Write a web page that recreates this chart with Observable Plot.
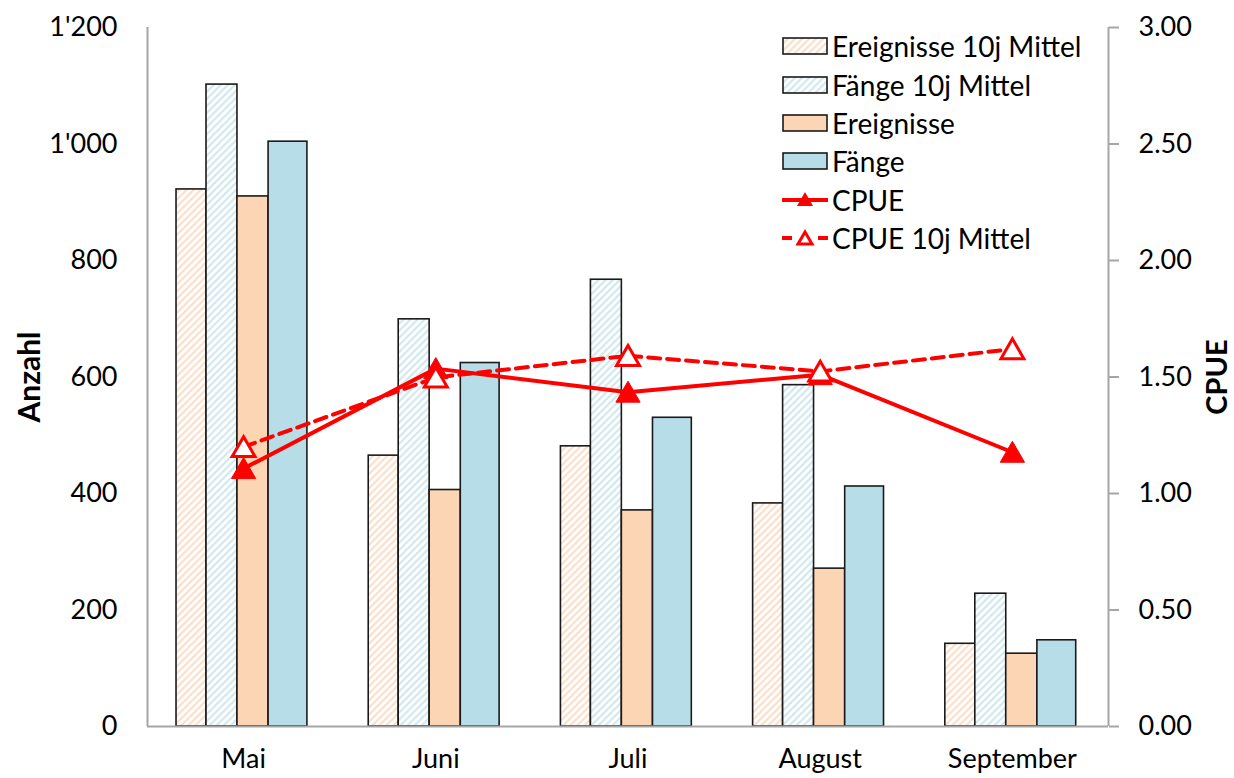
<!DOCTYPE html>
<html><head><meta charset="utf-8">
<script src="https://cdn.jsdelivr.net/npm/d3@7"></script>
<script src="https://cdn.jsdelivr.net/npm/@observablehq/plot@0.6"></script>
<style>
body{margin:0;background:#fff;font-family:Lato,"Noto Sans",sans-serif;}
#wrap{position:relative;width:1234px;height:778px;overflow:hidden;background:#fff}
#legend{position:absolute;left:782px;top:27px;}
.row{display:flex;align-items:center;height:38.4px;font-size:28px;color:#000;white-space:nowrap}
.row svg{margin-right:4px;flex:none}
</style></head><body>
<svg width="0" height="0" style="position:absolute">
  <defs>
    <pattern id="hatchO" patternUnits="userSpaceOnUse" width="5" height="5" patternTransform="rotate(45)">
      <rect width="5" height="5" fill="#fff"/>
      <line x1="1.2" y1="0" x2="1.2" y2="5" stroke="#fbdcc5" stroke-width="2"/>
    </pattern>
    <pattern id="hatchB" patternUnits="userSpaceOnUse" width="5" height="5" patternTransform="rotate(45)">
      <rect width="5" height="5" fill="#fff"/>
      <line x1="1.2" y1="0" x2="1.2" y2="5" stroke="#cde6ee" stroke-width="2"/>
    </pattern>
  </defs>
</svg>
<div id="wrap"><div id="legend"></div></div>
<script>
// ---- data ----
const months = ["Mai", "Juni", "Juli", "August", "September"];
const ereignisse10j = [922, 465, 481, 383, 142];
const faenge10j = [1102, 699, 767, 586, 228];
const ereignisse = [910, 406, 371, 271, 125];
const faenge = [1004, 624, 530, 412, 148];
const cpue = [1.107, 1.536, 1.435, 1.51, 1.177];
const cpue10j = [1.2, 1.498, 1.591, 1.524, 1.62];
const anzahlTicks = [0, 200, 400, 600, 800, 1000, 1200];
const cpueTicks = [0, 0.5, 1, 1.5, 2, 2.5, 3];
const seriesNames = ["Ereignisse 10j Mittel", "Fänge 10j Mittel", "Ereignisse", "Fänge", "CPUE", "CPUE 10j Mittel"];

// ---- layout / style ----
const K = 1200 / 3; // CPUE -> Anzahl scale mapping for the secondary axis
const idx = months.map((_, i) => i);
const barSpecs = [
  {values: ereignisse10j, fill: "url(#hatchO)", a: 0.151, b: 0.307},
  {values: faenge10j, fill: "url(#hatchB)", a: 0.307, b: 0.468},
  {values: ereignisse, fill: "#fcd5b4", a: 0.468, b: 0.630},
  {values: faenge, fill: "#b7dee8", a: 0.630, b: 0.832}
];
const loc = d3.formatLocale({decimal: ".", thousands: "'", grouping: [3], currency: ["", ""]});
const fmtAnz = loc.format(",");
const axisGray = "#a6a6a6";

const chart = Plot.plot({
  width: 1234,
  height: 778,
  marginLeft: 147,
  marginRight: 126,
  marginTop: 27,
  marginBottom: 52,
  style: {fontFamily: "Lato, 'Noto Sans', sans-serif", fontSize: "27px", color: "#000", background: "#fff"},
  x: {domain: [0, 5]},
  y: {domain: [0, 1200]},
  marks: [
    ...barSpecs.map(s => Plot.rect(idx, {
      x1: i => i + s.a, x2: i => i + s.b,
      y1: () => 0, y2: i => s.values[i],
      fill: s.fill, stroke: "#1a1a1a", strokeWidth: 1.6
    })),
    Plot.ruleY([0], {stroke: axisGray, strokeWidth: 2}),
    Plot.ruleX([0], {stroke: axisGray, strokeWidth: 2}),
    Plot.ruleX([5], {stroke: axisGray, strokeWidth: 2}),
    Plot.axisX({ticks: idx.map(i => i + 0.5), tickFormat: v => months[Math.round(v - 0.5)], tickSize: 0, tickPadding: 22, fontSize: 27, label: null}),
    Plot.axisY({anchor: "left", ticks: anzahlTicks, tickFormat: fmtAnz, tickSize: 0, tickPadding: 30, fontSize: 27, label: null}),
    Plot.axisY({anchor: "right", ticks: cpueTicks.map(c => c * K), tickFormat: v => (v / K).toFixed(2), tickSize: 10, tickPadding: 20, stroke: axisGray, strokeWidth: 2, fontSize: 27, label: null}),
    Plot.text(["Anzahl"], {frameAnchor: "left", text: d => d, rotate: -90, textAnchor: "middle", dx: -117, fontSize: 30, fontWeight: "bold"}),
    Plot.text(["CPUE"], {frameAnchor: "right", text: d => d, rotate: -90, textAnchor: "middle", dx: 109, fontSize: 29, fontWeight: "bold"}),
    Plot.line(idx, {x: i => i + 0.5, y: i => cpue10j[i] * K, stroke: "#ff0000", strokeWidth: 4, strokeDasharray: "12,7"}),
    Plot.line(idx, {x: i => i + 0.5, y: i => cpue[i] * K, stroke: "#ff0000", strokeWidth: 4}),
    Plot.dot(idx, {x: i => i + 0.5, y: i => cpue[i] * K, symbol: "triangle", r: 9, fill: "#ff0000", stroke: "#ff0000", strokeWidth: 1, dy: 3}),
    Plot.dot(idx, {x: i => i + 0.5, y: i => cpue10j[i] * K, symbol: "triangle", r: 8.5, fill: "#fff", stroke: "#ff0000", strokeWidth: 3, dy: 3})
  ]
});
document.getElementById("wrap").prepend(chart);

// ---- legend (HTML) ----
const legend = document.getElementById("legend");
const swatches = [
  `<rect x="1" y="2" width="44" height="16" fill="url(#hatchO)" stroke="#1a1a1a" stroke-width="1.6"/>`,
  `<rect x="1" y="2" width="44" height="16" fill="url(#hatchB)" stroke="#1a1a1a" stroke-width="1.6"/>`,
  `<rect x="1" y="2" width="44" height="16" fill="#fcd5b4" stroke="#1a1a1a" stroke-width="1.6"/>`,
  `<rect x="1" y="2" width="44" height="16" fill="#b7dee8" stroke="#1a1a1a" stroke-width="1.6"/>`,
  `<line x1="0" y1="10" x2="46" y2="10" stroke="#ff0000" stroke-width="4"/><path d="M23,2 L31,16 L15,16 Z" fill="#ff0000"/>`,
  `<line x1="0" y1="10" x2="10" y2="10" stroke="#ff0000" stroke-width="4"/><line x1="36" y1="10" x2="46" y2="10" stroke="#ff0000" stroke-width="4"/><path d="M23,4 L30,16 L16,16 Z" fill="#fff" stroke="#ff0000" stroke-width="3"/>`
];
seriesNames.forEach((name, i) => {
  const row = document.createElement("div");
  row.className = "row";
  row.innerHTML = `<svg width="46" height="20">${swatches[i]}</svg><span>${name}</span>`;
  legend.appendChild(row);
});
</script>
</body></html>
